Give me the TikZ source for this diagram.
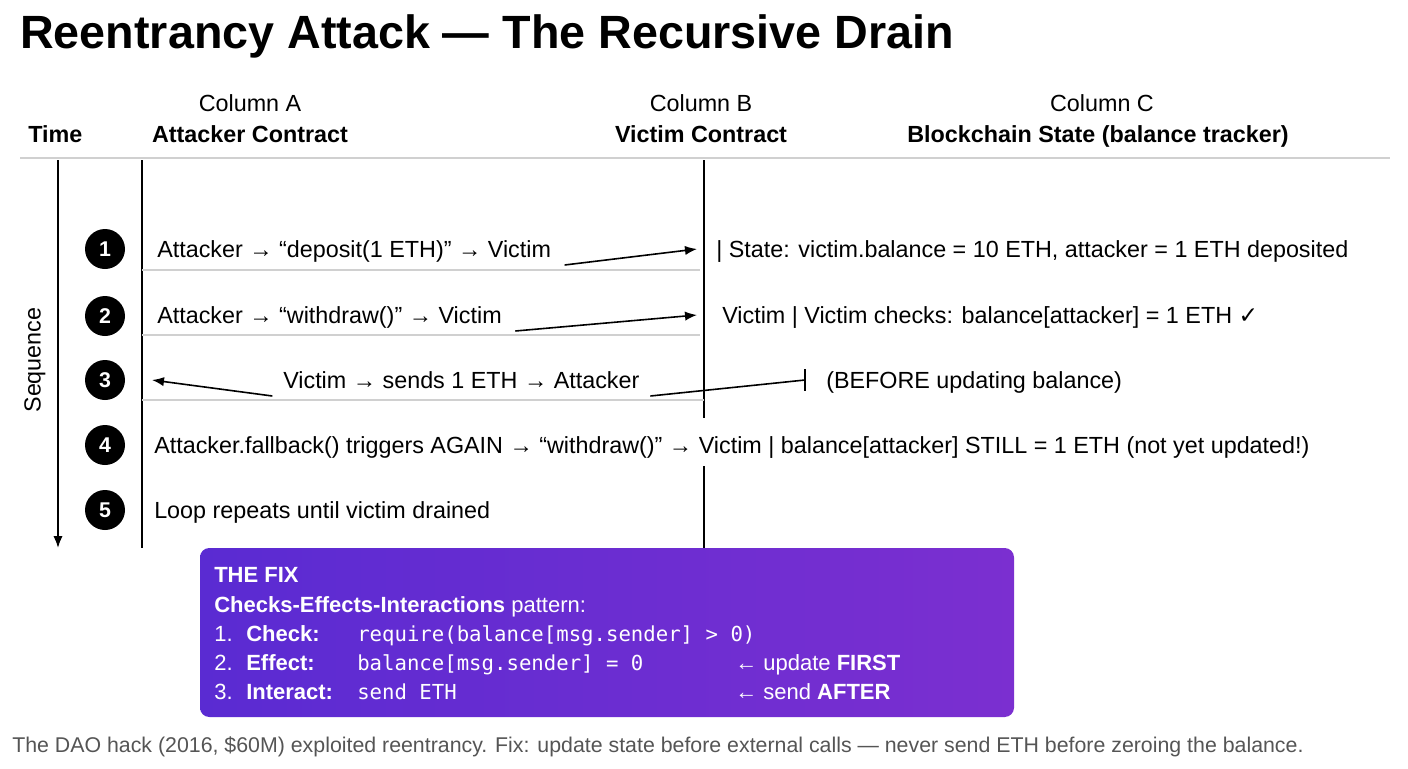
\documentclass[tikz,border=0pt]{standalone}
\usepackage{fontspec}
\setmainfont{Liberation Sans}
\newfontfamily\dejavu{DejaVu Sans}
\newfontfamily\codefont{DejaVu Sans Mono}
\usetikzlibrary{arrows.meta}
\definecolor{fixA}{HTML}{5A2BD2}
\definecolor{fixB}{HTML}{7B2FD0}
\definecolor{rulegray}{HTML}{D0D0D0}
\definecolor{foot}{HTML}{555555}
\tikzset{
 txt/.style={anchor=base west,inner sep=0pt,font=\fontsize{17.5}{20}\selectfont},
 hdr/.style={anchor=base,inner sep=0pt,font=\fontsize{17.5}{20}\selectfont},
 hdrb/.style={anchor=base,inner sep=0pt,font=\fontsize{17.5}{20}\selectfont\bfseries},
 num/.style={circle,fill=black,text=white,minimum size=30pt,inner sep=0pt,font=\fontsize{16}{18}\selectfont\bfseries},
 arr/.style={-{Latex[length=9pt,width=7pt]},line width=1.2pt},
 vline/.style={line width=1.3pt},
 sep/.style={rulegray,line width=0.8pt},
 fix/.style={anchor=base west,inner sep=0pt,text=white,font=\fontsize{16.5}{19}\selectfont},
}
\begin{document}
\begin{tikzpicture}[x=0.75pt,y=-0.75pt]
\useasboundingbox (0,0) rectangle (1408,768);
\node[anchor=base west,inner sep=0pt,font=\fontsize{35}{40}\selectfont\bfseries] (title) at (20,48) {Reentrancy Attack — The Recursive Drain};
% headers
\node[anchor=base west,inner sep=0pt,font=\fontsize{17.5}{20}\selectfont\bfseries] (time) at (28,142) {Time};
\node[hdr] (ca) at (250,111) {Column A};
\node[hdrb] (cab) at (250,142) {Attacker Contract};
\node[hdr] (cb) at (701,111) {Column B};
\node[hdrb] (cbb) at (701,142) {Victim Contract};
\node[hdr] (cc) at (1102,111) {Column C};
\node[hdrb] (ccb) at (1098,142) {Blockchain State (balance tracker)};
\coordinate (r1) at (20,158); \coordinate (r2) at (1390,158);
\draw[sep] (r1) -- (r2);
% time axis
\coordinate (t0) at (58,160); \coordinate (t1) at (58,548);
\draw[arr,line width=1.3pt] (t0) -- (t1);
\node[rotate=90,inner sep=0pt,font=\fontsize{17.5}{20}\selectfont] (seq) at (35,360) {Sequence};
% vertical lines
\coordinate (a0) at (142,160); \coordinate (a1) at (142,548);
\draw[vline] (a0) -- (a1);
\coordinate (b0) at (704,160); \coordinate (b1) at (704,418);
\coordinate (b2) at (704,466); \coordinate (b3) at (704,548);
\draw[vline] (b0) -- (b1); \draw[vline] (b2) -- (b3);
% separators
\coordinate (s1a) at (142,270); \coordinate (s1b) at (700,270);
\coordinate (s2a) at (142,335); \coordinate (s2b) at (700,335);
\coordinate (s3a) at (142,400); \coordinate (s3b) at (704,400);
\draw[sep] (s1a) -- (s1b); \draw[sep] (s2a) -- (s2b); \draw[sep] (s3a) -- (s3b);
% numbers
\node[num] (n1) at (105,249) {1};
\node[num] (n2) at (105,316) {2};
\node[num] (n3) at (105,380) {3};
\node[num] (n4) at (105,445) {4};
\node[num] (n5) at (105,510) {5};
% row 1
\node[txt] (t1a) at (157,257) {Attacker → “deposit(1 ETH)” → Victim};
\coordinate (e1) at (697,249);
\draw[arr] ([xshift=10pt,yshift=-6pt]t1a.base east) -- (e1);
\node[txt] (t1c) at (716,257) {| State: victim.balance = 10 ETH, attacker = 1 ETH deposited};
% row 2
\node[txt] (t2a) at (157,323) {Attacker → “withdraw()” → Victim};
\coordinate (e2) at (697,315);
\draw[arr] ([xshift=10pt,yshift=-6pt]t2a.base east) -- (e2);
\node[txt] (t2c) at (722,323) {Victim | Victim checks: balance[attacker] = 1 ETH {\dejavu ✓}};
% row 3
\node[txt] (t3a) at (283,388) {Victim → sends 1 ETH → Attacker};
\coordinate (e3) at (152,380);
\draw[arr] ([xshift=-8pt,yshift=-6pt]t3a.base west) -- (e3);
\coordinate (e3r) at (805,380);
\draw[line width=1.2pt] ([xshift=8pt,yshift=-6pt]t3a.base east) -- (e3r);
\coordinate (e3t) at (805,369); \coordinate (e3u) at (805,391);
\draw[line width=1.2pt] (e3t) -- (e3u);
\node[txt] (t3c) at (826,388) {(BEFORE updating balance)};
% row 4
\node[txt] (t4) at (154,453) {Attacker.fallback() triggers AGAIN → “withdraw()” → Victim | balance[attacker] STILL = 1 ETH (not yet updated!)};
% row 5
\node[txt] (t5) at (154,518) {Loop repeats until victim drained};
% fix box
\shade[left color=fixA,right color=fixB,rounded corners=7pt] (200,548) rectangle (1014,717);
\node[fix,font=\fontsize{16.5}{19}\selectfont\bfseries] (f0) at (214,582) {THE FIX};
\node[fix] (f1) at (214,612) {\textbf{Checks-Effects-Interactions} pattern:};
\node[fix] (f2n) at (214,641) {1.}; \node[fix] (f2a) at (246,641) {\textbf{Check:}};
\node[fix,font=\fontsize{15.5}{19}\codefont] (f2b) at (357,641) {require(balance[msg.sender] > 0)};
\node[fix] (f3n) at (214,670) {2.}; \node[fix] (f3a) at (246,670) {\textbf{Effect:}};
\node[fix,font=\fontsize{15.5}{19}\codefont] (f3b) at (357,670) {balance[msg.sender] = 0};
\node[fix] (f3c) at (735,670) {← update \textbf{FIRST}};
\node[fix] (f4n) at (214,699) {3.}; \node[fix] (f4a) at (246,699) {\textbf{Interact:}};
\node[fix,font=\fontsize{15.5}{19}\codefont] (f4b) at (357,699) {send ETH};
\node[fix] (f4c) at (735,699) {← send \textbf{AFTER}};
% footer
\node[anchor=base west,inner sep=0pt,text=foot,font=\fontsize{16}{19}\selectfont] (foot) at (12,752) {The DAO hack (2016, \$60M) exploited reentrancy. Fix: update state before external calls — never send ETH before zeroing the balance.};
\end{tikzpicture}
\end{document}
